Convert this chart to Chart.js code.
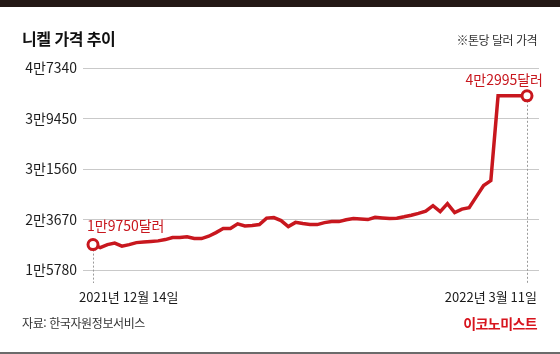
<!DOCTYPE html>
<html lang="ko">
<head>
<meta charset="utf-8">
<title>니켈 가격 추이</title>
<script src="https://cdn.jsdelivr.net/npm/chart.js@4/dist/chart.umd.min.js"></script>
<style>
  body { margin: 0; background: #fff; }
  #wrap {
    position: relative; width: 560px; height: 354px; overflow: hidden;
    font-family: "Noto Sans CJK KR", "Noto Sans", sans-serif; background: #fff;
  }
  #wrap canvas { position: absolute; left: 0; top: 0; }
  .top-bar { position: absolute; left: 0; top: 0; width: 560px; height: 7px; background: #231815; }
  .bottom-bar { position: absolute; left: 0; bottom: 0; width: 560px; height: 2px; background: #6b6b6b; }
  .title {
    position: absolute; left: 22px; top: 30px; margin: 0;
    font-size: 16px; line-height: 16px; font-weight: 700; color: #111; letter-spacing: -0.5px;
  }
  .unit {
    position: absolute; right: 23px; top: 34px;
    font-size: 12px; line-height: 12px; color: #333; letter-spacing: -0.5px;
  }
  .source {
    position: absolute; left: 22px; top: 317px;
    font-size: 12px; line-height: 12px; color: #333; letter-spacing: -0.4px;
  }
  .brand {
    position: absolute; right: 23px; top: 316px;
    font-size: 14px; line-height: 14px; font-weight: 700; color: #d7141d; letter-spacing: -0.6px;
  }
</style>
</head>
<body>
<div id="wrap">
  <div class="top-bar"></div>
  <canvas id="grafico-niquel" width="560" height="354"></canvas>
  <h1 class="title">니켈 가격 추이</h1>
  <div class="unit">※톤당 달러 가격</div>
  <div class="source">자료: 한국자원정보서비스</div>
  <div class="brand">이코노미스트</div>
  <div class="bottom-bar"></div>
</div>
<script>
// 거래일 순번 (0 = 2021-12-14, 60 = 2022-03-11)
const precios = [
  19750, 19280, 19750, 19985, 19515, 19750, 20060, 20170, 20250, 20330,
  20530, 20845, 20845, 20970, 20690, 20690, 21060, 21625, 22250, 22250,
  22985, 22670, 22720, 22875, 23890, 23970, 23500, 22560, 23220, 23030,
  22875, 22875, 23185, 23340, 23340, 23625, 23810, 23735, 23655, 24015,
  23920, 23810, 23875, 24090, 24340, 24625, 24980, 25840, 24905, 26155,
  24750, 25295, 25530, 27250, 28965, 29745, 42995, 42995, 42995, 42995,
  42995
];
const etiquetasX = ['2021년 12월 14일', '2022년 3월 11일'];
const indicesX = [0, precios.length - 1];
const ticksY = [15780, 23670, 31560, 39450, 47340];
const etiquetasInicioFin = ['1만9750달러', '4만2995달러'];

const ROJO = '#c8171e';
const FUENTE = '"Noto Sans CJK KR", "Noto Sans", sans-serif';
const ultimo = precios.length - 1;

function formatoMan(v) {
  const man = Math.floor(v / 10000);
  const resto = v % 10000;
  return `${man}만${resto}`;
}

const lineasPunteadas = {
  id: 'lineasPunteadas',
  beforeDatasetsDraw(chart) {
    const { ctx, scales } = chart;
    ctx.save();
    ctx.strokeStyle = '#9a9a9a';
    ctx.lineWidth = 1;
    ctx.setLineDash([2, 2]);
    indicesX.forEach(i => {
      const x = Math.round(scales.x.getPixelForValue(i)) + 0.5;
      const y = scales.y.getPixelForValue(precios[i]);
      ctx.beginPath();
      ctx.moveTo(x, y + 5);
      ctx.lineTo(x, scales.y.bottom + 13);
      ctx.stroke();
    });
    ctx.restore();
  }
};

// fechas de inicio y fin: la primera sobresale a la izquierda, la última termina pasado el punto
const fechasEje = {
  id: 'fechasEje',
  afterDraw(chart) {
    const { ctx, scales } = chart;
    ctx.save();
    ctx.fillStyle = '#1a1a1a';
    ctx.font = `13px ${FUENTE}`;
    ctx.textBaseline = 'middle';
    const y = scales.y.bottom + 27;
    ctx.textAlign = 'left';
    ctx.fillText(etiquetasX[0], scales.x.getPixelForValue(indicesX[0]) - 14, y);
    ctx.textAlign = 'right';
    ctx.fillText(etiquetasX[1], scales.x.getPixelForValue(indicesX[1]) + 10, y);
    ctx.restore();
  }
};

const etiquetasValor = {
  id: 'etiquetasValor',
  afterDatasetsDraw(chart) {
    const { ctx, scales } = chart;
    ctx.save();
    ctx.fillStyle = ROJO;
    ctx.font = `14px ${FUENTE}`;
    ctx.textBaseline = 'middle';

    const x0 = scales.x.getPixelForValue(0);
    const y0 = scales.y.getPixelForValue(precios[0]);
    ctx.textAlign = 'left';
    ctx.fillText(etiquetasInicioFin[0], x0 - 6, y0 - 19);

    const x1 = scales.x.getPixelForValue(ultimo);
    const y1 = scales.y.getPixelForValue(precios[ultimo]);
    ctx.textAlign = 'right';
    ctx.fillText(etiquetasInicioFin[1], x1 + 16, y1 - 16);
    ctx.restore();
  }
};

const ctx = document.getElementById('grafico-niquel').getContext('2d');

new Chart(ctx, {
  type: 'line',
  data: {
    datasets: [{
      data: precios.map((p, i) => ({ x: i, y: p })),
      borderColor: ROJO,
      borderWidth: 3.5,
      tension: 0,
      fill: false,
      clip: false,
      pointRadius: precios.map((p, i) => (i === 0 || i === ultimo) ? 5 : 0),
      pointBackgroundColor: '#ffffff',
      pointBorderColor: ROJO,
      pointBorderWidth: 3,
      pointHoverRadius: 0
    }]
  },
  options: {
    responsive: false,
    animation: false,
    events: [],
    layout: { padding: { left: 0, right: 21, top: 68, bottom: 44 } },
    plugins: {
      legend: { display: false },
      tooltip: { enabled: false }
    },
    scales: {
      x: {
        type: 'linear',
        min: -10 / (434 / 60),
        max: 60 + 12 / (434 / 60),
        afterBuildTicks: scale => {
          scale.ticks = indicesX.map(v => ({ value: v }));
        },
        afterFit: scale => { scale.height = 40; },
        grid: { display: false, drawTicks: false },
        border: { display: false },
        ticks: { display: false }
      },
      y: {
        min: ticksY[0],
        max: ticksY[ticksY.length - 1],
        afterBuildTicks: scale => {
          scale.ticks = ticksY.map(v => ({ value: v }));
        },
        afterFit: scale => { scale.width = 83; },
        grid: { color: '#c9c9c9', lineWidth: 1, drawTicks: false },
        border: { display: false },
        ticks: {
          padding: 6,
          color: '#1e1e1e',
          font: { family: FUENTE, size: 14 },
          callback: value => formatoMan(value)
        }
      }
    }
  },
  plugins: [lineasPunteadas, fechasEje, etiquetasValor]
});
</script>
</body>
</html>
